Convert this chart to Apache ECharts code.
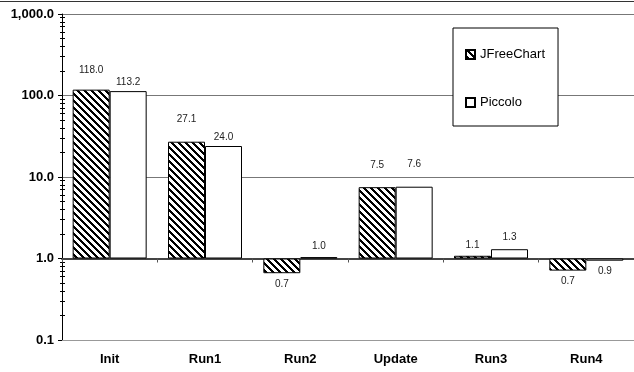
<!DOCTYPE html>
<html>
<head>
<meta charset="utf-8">
<script src="https://cdn.jsdelivr.net/npm/echarts@6/dist/echarts.min.js"></script>
<style>
html, body { margin: 0; padding: 0; background: #fff; }
#chart { width: 634px; height: 372px; }
</style>
</head>
<body>
<div id="chart"></div>
<script>
// categories and values (ms)
var categories = ['Init', 'Run1', 'Run2', 'Update', 'Run3', 'Run4'];
var jfreeValues = [118.0, 27.1, 0.66, 7.5, 1.08, 0.71];
var piccoloValues = [113.2, 24.0, 1.04, 7.6, 1.3, 0.94];
// y tick labels are powers of ten from 0.1 to 1000
var decades = [-1, 0, 1, 2, 3];

// label gaps (style only)
var jfreeGap = [14, 17, 6, 17, 6, 6];
var piccoloGap = [4, 4, 6, 17, 7, 6];

var FONT = "'Liberation Sans', Arial, sans-serif";

// minor tick positions 2..9 in every decade
var minorTicks = [];
for (var d = 0; d < decades.length - 1; d++) {
	for (var k = 2; k <= 9; k++) {
		minorTicks.push(decades[d] + Math.log10(k));
	}
}

// diagonal hatch like the excel fill
function hatchCanvas() {
	var c = document.createElement('canvas');
	c.width = 7;
	c.height = 7;
	var ctx = c.getContext('2d');
	ctx.fillStyle = '#fff';
	ctx.fillRect(0, 0, 7, 7);
	ctx.fillStyle = '#000';
	for (var y = 0; y < 7; y++) {
		for (var x = 0; x < 7; x++) {
			if (((x - y) % 7 + 7) % 7 < 3) {
				ctx.fillRect(x, y, 1, 1);
			}
		}
	}
	return c;
}

function fmtAxis(v) {
	var n = Math.pow(10, v);
	return n.toLocaleString('en-US', {minimumFractionDigits: 1, maximumFractionDigits: 1});
}

// bars are drawn in log10 space so they grow from 1.0 like the original
function toBars(vals, gaps) {
	return vals.map(function(v, i) {
		return {
			value: Math.log10(v),
			label: {position: v < 1 ? 'bottom' : 'top', distance: gaps[i]}
		};
	});
}

var myChart = echarts.init(document.getElementById('chart'));
var option = {
	animation: false,
	backgroundColor: '#fff',
	textStyle: {fontFamily: FONT},
	graphic: [{
		type: 'line',
		shape: {x1: 0, y1: 1.5, x2: 634, y2: 1.5},
		style: {stroke: '#333', lineWidth: 1}
	}],
	grid: {left: 62, top: 14, width: 576, bottom: 32},
	legend: {
		orient: 'vertical',
		left: 453,
		top: 28,
		itemWidth: 9,
		itemHeight: 9,
		itemGap: 35,
		padding: [20, 13, 17, 12],
		borderColor: '#000',
		borderWidth: 1,
		borderRadius: 0,
		backgroundColor: '#fff',
		icon: 'rect',
		textStyle: {fontFamily: FONT, fontSize: 13, color: '#000'},
		data: ['JFreeChart', 'Piccolo']
	},
	xAxis: [
		{
			type: 'category',
			data: categories,
			position: 'bottom',
			axisLine: {onZero: true, lineStyle: {color: '#444', width: 2}},
			axisTick: {show: true, length: 4, lineStyle: {color: '#555'}},
			axisLabel: {show: false}
		},
		{
			type: 'category',
			data: categories,
			position: 'bottom',
			axisLine: {onZero: false, lineStyle: {color: '#999', width: 1}},
			axisTick: {show: false},
			axisLabel: {fontFamily: FONT, fontSize: 13, fontWeight: 'bold', color: '#000', margin: 13}
		}
	],
	yAxis: [
		{
			type: 'value',
			position: 'left',
			min: -1,
			max: 3,
			interval: 1,
			axisLine: {show: true, lineStyle: {color: '#000', width: 1}},
			axisTick: {show: true, length: 4, lineStyle: {color: '#000'}},
			axisLabel: {
				formatter: fmtAxis,
				fontFamily: FONT, fontSize: 13, fontWeight: 'bold', color: '#000', margin: 8
			},
			splitLine: {show: true, lineStyle: {color: '#777', width: 1}}
		},
		{
			type: 'value',
			position: 'left',
			min: -1,
			max: 3,
			axisLine: {show: false, onZero: false},
			axisLabel: {show: false},
			splitLine: {show: false},
			axisTick: {show: true, inside: true, length: 3, customValues: minorTicks, lineStyle: {color: '#000'}}
		},
		{
			type: 'value',
			position: 'left',
			min: -1,
			max: 3,
			axisLine: {show: false, onZero: false},
			axisLabel: {show: false},
			splitLine: {show: false},
			axisTick: {show: true, length: 2, customValues: minorTicks, lineStyle: {color: '#000'}}
		}
	],
	series: [
		{
			name: 'JFreeChart',
			type: 'bar',
			xAxisIndex: 0,
			yAxisIndex: 0,
			barWidth: 37,
			barGap: '0%',
			itemStyle: {color: {image: hatchCanvas(), repeat: 'repeat'}, borderColor: '#000', borderWidth: 1},
			label: {
				show: true,
				fontFamily: FONT, fontSize: 10, color: '#222',
				formatter: function(p) { return jfreeValues[p.dataIndex].toFixed(1); }
			},
			data: toBars(jfreeValues, jfreeGap)
		},
		{
			name: 'Piccolo',
			type: 'bar',
			xAxisIndex: 0,
			yAxisIndex: 0,
			barWidth: 37,
			barGap: '0%',
			itemStyle: {color: '#fff', borderColor: '#000', borderWidth: 1},
			label: {
				show: true,
				fontFamily: FONT, fontSize: 10, color: '#222',
				formatter: function(p) { return piccoloValues[p.dataIndex].toFixed(1); }
			},
			data: toBars(piccoloValues, piccoloGap)
		}
	]
};
myChart.setOption(option);
</script>
</body>
</html>
